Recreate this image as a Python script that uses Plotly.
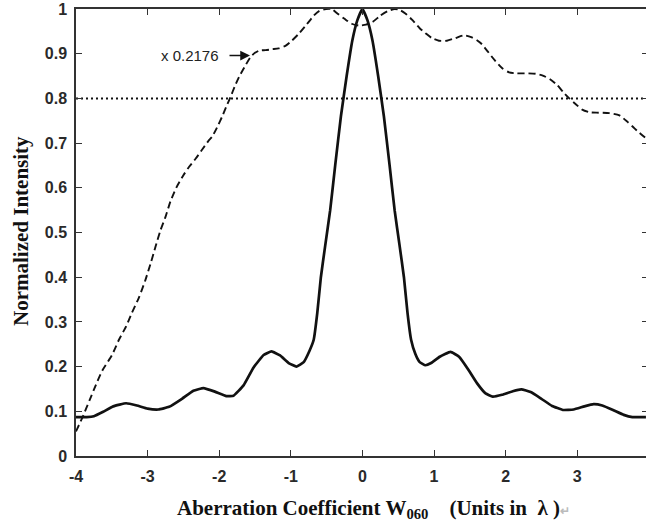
import plotly.graph_objects as go

# ---- data ----
solid_x = [-4.0, -3.85, -3.75, -3.62, -3.48, -3.3, -3.15, -3.0, -2.85, -2.7, -2.52, -2.36, -2.22, -2.06, -1.9, -1.8,
           -1.66, -1.52, -1.38, -1.27, -1.15, -1.03, -0.92, -0.82, -0.74, -0.68, -0.63, -0.58, -0.52, -0.45, -0.38,
           -0.3, -0.22, -0.14, -0.07, 0.0, 0.07, 0.14, 0.22, 0.3, 0.38, 0.45, 0.52, 0.58, 0.63, 0.68, 0.74, 0.8,
           0.88, 0.96, 1.08, 1.23, 1.35, 1.48, 1.6, 1.72, 1.82, 1.95, 2.1, 2.22, 2.35, 2.5, 2.65, 2.8, 2.95, 3.1,
           3.23, 3.35, 3.5, 3.65, 3.77, 3.96]
solid_y = [0.087, 0.087, 0.089, 0.099, 0.111, 0.118, 0.113, 0.106, 0.104, 0.11, 0.128, 0.146, 0.152, 0.144, 0.134,
           0.135, 0.158, 0.198, 0.226, 0.234, 0.225, 0.208, 0.2, 0.21, 0.235, 0.26, 0.32, 0.40, 0.47, 0.55, 0.65,
           0.76, 0.85, 0.93, 0.975, 1.0, 0.975, 0.93, 0.85, 0.76, 0.65, 0.55, 0.47, 0.40, 0.32, 0.26, 0.228, 0.21,
           0.203, 0.208, 0.222, 0.233, 0.222, 0.193, 0.163, 0.14, 0.133, 0.137, 0.145, 0.149, 0.143, 0.128, 0.112,
           0.103, 0.104, 0.111, 0.116, 0.113, 0.103, 0.092, 0.087, 0.087]

dash_x = [-4.0, -3.9, -3.81, -3.72, -3.63, -3.5, -3.4, -3.3, -3.22, -3.12, -3.03, -2.95, -2.89, -2.82, -2.75, -2.68,
          -2.6, -2.5, -2.42, -2.33, -2.24, -2.15, -2.1, -2.03, -1.96, -1.9, -1.84, -1.78, -1.72, -1.64, -1.56, -1.5,
          -1.44, -1.35, -1.26, -1.17, -1.07, -0.98, -0.88, -0.78, -0.68, -0.6, -0.51, -0.43, -0.35, -0.25, -0.15,
          -0.05, 0.05, 0.15, 0.25, 0.35, 0.45, 0.52, 0.6, 0.7, 0.8, 0.88, 0.97, 1.07, 1.18, 1.3, 1.42, 1.52, 1.6,
          1.67, 1.75, 1.85, 1.95, 2.05, 2.15, 2.3, 2.42, 2.52, 2.62, 2.72, 2.8, 2.89, 2.98, 3.07, 3.17, 3.3, 3.45,
          3.59, 3.7, 3.8, 3.87, 3.96]
dash_y = [0.055, 0.09, 0.125, 0.16, 0.192, 0.225, 0.26, 0.29, 0.32, 0.355, 0.394, 0.435, 0.468, 0.505, 0.535, 0.57,
          0.6, 0.628, 0.647, 0.665, 0.685, 0.705, 0.714, 0.735, 0.759, 0.782, 0.804, 0.828, 0.849, 0.872, 0.893, 0.902,
          0.907, 0.908, 0.91, 0.912, 0.918, 0.93, 0.946, 0.965, 0.985, 0.996, 1.0, 1.0, 0.99, 0.978, 0.967,
          0.963, 0.965, 0.972, 0.985, 0.995, 1.0, 0.998, 0.99, 0.975, 0.957, 0.946, 0.935, 0.929, 0.929, 0.935,
          0.941, 0.937, 0.93, 0.921, 0.905, 0.885, 0.868, 0.858, 0.856, 0.856, 0.855, 0.851, 0.843, 0.83, 0.815,
          0.8, 0.787, 0.775, 0.769, 0.768, 0.767, 0.762, 0.748, 0.733, 0.723, 0.711]

threshold_x = [-4.0, 4.0]
threshold_y = [0.8, 0.8]

x_ticks = [-4, -3, -2, -1, 0, 1, 2, 3, 4]
x_tick_text = ["-4", "-3", "-2", "-1", "0", "1", "2", "3", "4"]
y_ticks = [0, 0.1, 0.2, 0.3, 0.4, 0.5, 0.6, 0.7, 0.8, 0.9, 1.0]
y_tick_text = ["0", "0.1", "0.2", "0.3", "0.4", "0.5", "0.6", "0.7", "0.8", "0.9", "1"]

scale_label = "x 0.2176"
x_title = ("Aberration Coefficient W<sub>060</sub>\u00a0\u00a0\u00a0\u00a0(Units in\u00a0\u00a0\u03bb\u00a0)"
           "<span style='color:#bbbbbb;font-size:12px'>\u21b5</span>")
y_title = "Normalized Intensity"

# ---- figure ----
W, H = 646, 528
ML, MR, MT, MB = 76, 0, 9, 72
px_per_unit = 71.6
x_max = -4 + (W - ML - MR) / px_per_unit

ink = "#111111"
fig = go.Figure()
fig.add_trace(go.Scatter(x=dash_x, y=dash_y, mode="lines",
                         line=dict(color=ink, width=1.9, dash="7px,4px", shape="spline", smoothing=0.6),
                         hoverinfo="skip"))
fig.add_trace(go.Scatter(x=solid_x, y=solid_y, mode="lines",
                         line=dict(color=ink, width=2.7, shape="spline", smoothing=0.35),
                         hoverinfo="skip"))
fig.add_trace(go.Scatter(x=threshold_x, y=threshold_y, mode="lines", yaxis="y2",
                         line=dict(color=ink, width=2, dash="2px,3px"),
                         hoverinfo="skip"))

tick_font = dict(family="Liberation Sans, Arial", size=16, color="#2a2a2a", weight="bold")
fig.update_layout(
    width=W, height=H,
    margin=dict(l=ML, r=MR, t=MT, b=MB, pad=0),
    paper_bgcolor="white", plot_bgcolor="white",
    showlegend=False,
    xaxis=dict(range=[-4, x_max], tickvals=x_ticks, ticktext=x_tick_text,
               ticks="inside", ticklen=6, tickwidth=1.2, tickcolor="#333",
               showline=True, linecolor="#333", linewidth=1.5, mirror="ticks",
               showgrid=False, zeroline=False, tickfont=tick_font, ticklabelstandoff=5),
    yaxis=dict(range=[0, 1], tickvals=y_ticks, ticktext=y_tick_text,
               ticks="inside", ticklen=6, tickwidth=1.2, tickcolor="#333",
               showline=True, linecolor="#333", linewidth=1.5,
               showgrid=False, zeroline=False, tickfont=tick_font, ticklabelstandoff=4),
    yaxis2=dict(range=[0, 1], overlaying="y", side="right", tickvals=y_ticks,
                ticks="inside", ticklen=4, tickwidth=1.2, tickcolor="#333",
                showticklabels=False, showline=False, showgrid=False, zeroline=False),
)

pw = W - ML - MR
ph = H - MT - MB

def paper_x(px):
    return (px - ML) / pw

def paper_y(py):
    return (H - MB - py) / ph

# scale annotation: label with an arrow pointing to the dashed curve
fig.add_annotation(xref="paper", yref="paper", x=paper_x(250), y=paper_y(55.5),
                   ax=190 - 250, ay=0, axref="pixel", ayref="pixel",
                   text=scale_label, showarrow=True, arrowhead=2, arrowsize=1.3, arrowwidth=1.5,
                   arrowcolor="#111", startstandoff=9,
                   font=dict(family="Liberation Sans, Arial", size=15, color="#222"))

# axis titles
fig.add_annotation(xref="paper", yref="paper", x=paper_x(373), y=paper_y(509),
                   text=x_title, showarrow=False, xanchor="center", yanchor="middle",
                   font=dict(family="Liberation Serif, Times New Roman", size=21, color="#111", weight="bold"))
fig.add_annotation(xref="paper", yref="paper", x=paper_x(21), y=paper_y(231),
                   text=y_title, showarrow=False, xanchor="center", yanchor="middle", textangle=-90,
                   font=dict(family="Liberation Serif, Times New Roman", size=21, color="#111", weight="bold"))

fig.write_html("out.html")
